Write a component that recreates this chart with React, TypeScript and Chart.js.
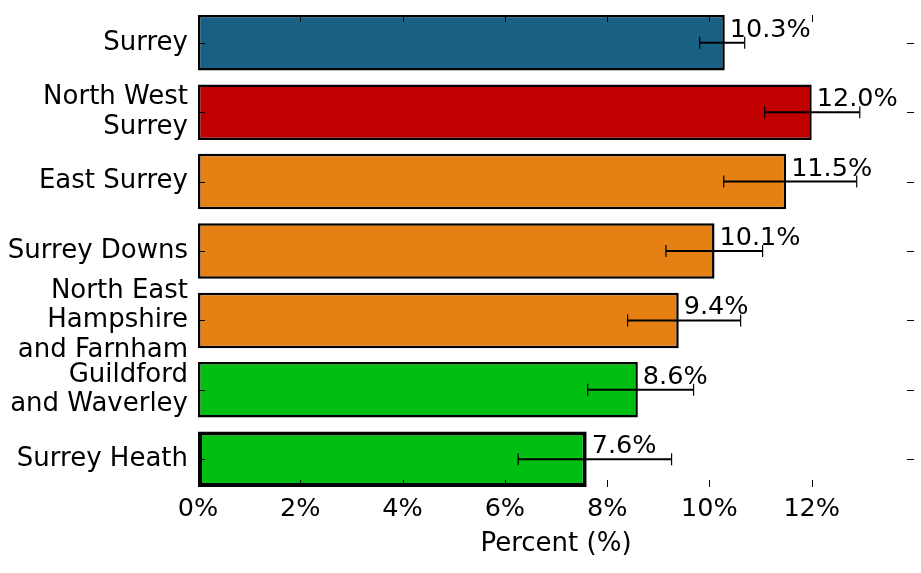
import React, { useEffect, useRef } from "react";
import { Chart, registerables } from "chart.js";

Chart.register(...registerables);

const categories: (string | string[])[] = [
  "Surrey",
  ["North West", "Surrey"],
  "East Surrey",
  "Surrey Downs",
  ["North East", "Hampshire", "and Farnham"],
  ["Guildford", "and Waverley"],
  "Surrey Heath",
];
const values = [10.3, 12.0, 11.5, 10.1, 9.4, 8.6, 7.6];
const errLow = [9.81, 11.08, 10.28, 9.15, 8.4, 7.62, 6.26];
const errHigh = [10.69, 12.94, 12.88, 11.04, 10.61, 9.69, 9.26];
const barColors = ["#186185", "#c00000", "#e58014", "#e58014", "#e58014", "#00be12", "#00be12"];
const borderWidths = [2.5, 2.5, 2.5, 2.5, 2.5, 2.5, 4];
const xTicks = [0, 2, 4, 6, 8, 10, 12];

const FONT = "'DejaVu Sans', sans-serif";

const overlayPlugin = {
  id: "overlay",
  afterDatasetsDraw(chart: any) {
    const ctx = chart.ctx;
    const xs = chart.scales.x;
    const ys = chart.scales.y;
    const area = chart.chartArea;
    ctx.save();
    ctx.strokeStyle = "#000";
    // error bars
    for (let i = 0; i < values.length; i++) {
      const y = ys.getPixelForValue(i);
      const x1 = xs.getPixelForValue(errLow[i]);
      const x2 = xs.getPixelForValue(errHigh[i]);
      ctx.lineWidth = 2;
      ctx.beginPath();
      ctx.moveTo(x1, y);
      ctx.lineTo(x2, y);
      ctx.stroke();
      ctx.lineWidth = 1.2;
      ctx.beginPath();
      ctx.moveTo(x1, y - 6);
      ctx.lineTo(x1, y + 6);
      ctx.moveTo(x2, y - 6);
      ctx.lineTo(x2, y + 6);
      ctx.stroke();
    }
    // tick marks (inward, all four sides)
    ctx.lineWidth = 1;
    ctx.beginPath();
    for (const t of xTicks) {
      const x = Math.round(xs.getPixelForValue(t)) + 0.5;
      ctx.moveTo(x, area.top);
      ctx.lineTo(x, area.top + 7);
      ctx.moveTo(x, area.bottom);
      ctx.lineTo(x, area.bottom - 7);
    }
    for (let i = 0; i < values.length; i++) {
      const y = Math.round(ys.getPixelForValue(i)) + 0.5;
      ctx.moveTo(area.left, y);
      ctx.lineTo(area.left + 7, y);
      ctx.moveTo(area.right, y);
      ctx.lineTo(area.right - 7, y);
    }
    ctx.stroke();
    // value labels
    ctx.fillStyle = "#000";
    ctx.font = `25.5px ${FONT}`;
    ctx.textAlign = "left";
    ctx.textBaseline = "alphabetic";
    for (let i = 0; i < values.length; i++) {
      const y = ys.getPixelForValue(i);
      const x = xs.getPixelForValue(values[i]);
      ctx.fillText(`${values[i].toFixed(1)}%`, x + 5, y - 6);
    }
    ctx.restore();
  },
};

export default function App() {
  const canvasRef = useRef<HTMLCanvasElement | null>(null);

  useEffect(() => {
    if (!canvasRef.current) return;
    const chart = new Chart(canvasRef.current, {
      type: "bar",
      data: {
        datasets: [
          {
            data: values.map((v, i) => ({ x: v, y: i })),
            backgroundColor: barColors,
            borderColor: "#000",
            borderWidth: borderWidths,
            borderSkipped: false,
            barPercentage: 0.8,
            categoryPercentage: 1,
          } as any,
        ],
      },
      options: {
        indexAxis: "y",
        animation: false,
        responsive: true,
        maintainAspectRatio: false,
        layout: { padding: { top: 15, right: 7, left: 0, bottom: 0 } },
        plugins: { legend: { display: false }, tooltip: { enabled: false } },
        scales: {
          x: {
            type: "linear",
            position: "bottom",
            min: 0,
            max: 14,
            offset: false,
            border: { display: false },
            grid: { display: false, drawTicks: false },
            afterBuildTicks: (scale: any) => {
              scale.ticks = xTicks.map((v) => ({ value: v }));
            },
            afterFit: (scale: any) => {
              scale.height = 86;
              scale.paddingLeft = 0;
              scale.paddingRight = 0;
            },
            ticks: {
              autoSkip: false,
              maxRotation: 0,
              padding: 7,
              color: "#000",
              font: { family: FONT, size: 25.5 },
              callback: (v: any) => `${v}%`,
            },
            title: {
              display: true,
              text: "Percent (%)",
              color: "#000",
              font: { family: FONT, size: 26 },
              padding: { top: 0, bottom: 13 },
            },
          },
          y: {
            type: "linear",
            position: "left",
            min: -0.4,
            max: 6.4,
            reverse: true,
            offset: false,
            border: { display: false },
            grid: { display: false, drawTicks: false, offset: false },
            afterBuildTicks: (scale: any) => {
              scale.ticks = categories.map((_, i) => ({ value: i }));
            },
            afterFit: (scale: any) => {
              scale.width = 198;
              scale.paddingTop = 0;
              scale.paddingBottom = 0;
            },
            ticks: {
              autoSkip: false,
              padding: 10,
              color: "#000",
              font: { family: FONT, size: 26, lineHeight: 1.135 },
              callback: (v: any) => categories[v as number],
            },
          },
        },
      },
      plugins: [overlayPlugin],
    } as any);
    return () => chart.destroy();
  }, []);

  return (
    <div style={{ position: "fixed", left: 0, top: 0, width: 921, height: 573, background: "#fff" }}>
      <canvas ref={canvasRef} />
    </div>
  );
}
